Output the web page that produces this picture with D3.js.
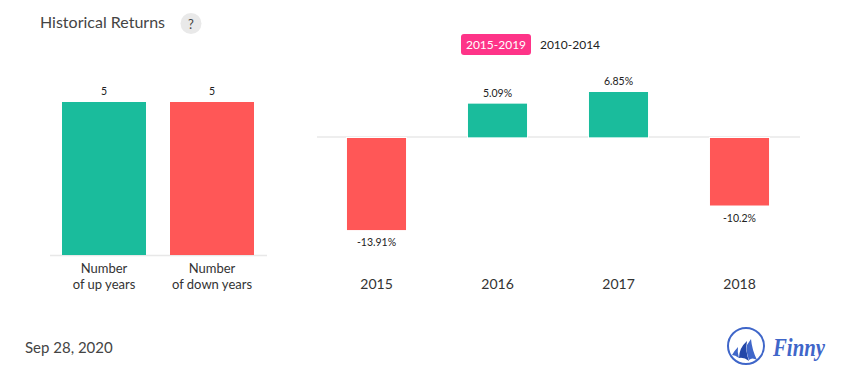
<!DOCTYPE html>
<html><head><meta charset="utf-8">
<script src="https://cdnjs.cloudflare.com/ajax/libs/d3/7.8.5/d3.min.js"></script>
<style>html,body{margin:0;padding:0;background:#fff;overflow:hidden}svg{display:block}text{font-family:Lato,sans-serif}</style>
</head><body><svg id="c" width="855" height="382"></svg>
<script>
const countLabels = [["Number","of up years"],["Number","of down years"]];
const countValues = [5,5];
const years = ["2015","2016","2017","2018"];
const returns = [-13.91,5.09,6.85,-10.2];
const returnLabels = ["-13.91%","5.09%","6.85%","-10.2%"];
const periods = ["2015-2019","2010-2014"];
const UP="#1abc9c", DOWN="#ff5757", AXIS="#e8e8e8";
const svg=d3.select("#c");

svg.append("text").attr("x",40).attr("y",28).attr("font-size",16).attr("fill","#444").text("Historical Returns");
svg.append("circle").attr("cx",191).attr("cy",23.5).attr("r",10.5).attr("fill","#e9e9e9");
svg.append("text").attr("x",191).attr("y",28.5).attr("text-anchor","middle").attr("font-size",13).attr("fill","#444").text("?");

// period toggle
svg.append("rect").attr("x",461).attr("y",34).attr("width",70).attr("height",21).attr("rx",3).attr("fill","#fe3488");
svg.append("text").attr("x",496).attr("y",49).attr("text-anchor","middle").attr("font-size",12).attr("fill","#fff").text(periods[0]);
svg.append("text").attr("x",570).attr("y",49).attr("text-anchor","middle").attr("font-size",12).attr("fill","#222").text(periods[1]);

// left chart
const xL=d3.scaleBand().domain(countLabels.map((d,i)=>i)).range([50,266]).paddingInner(0.2222).paddingOuter(0.1111);
const yL=d3.scaleLinear().domain([0,5]).range([255,102]);
svg.append("line").attr("x1",50).attr("x2",267).attr("y1",255.5).attr("y2",255.5).attr("stroke",AXIS).attr("stroke-width",1.5);
svg.selectAll(".cnt").data(countValues).join("rect").attr("class","cnt")
  .attr("x",(d,i)=>xL(i)).attr("width",xL.bandwidth()).attr("y",d=>yL(d)).attr("height",d=>yL(0)-yL(d))
  .attr("fill",(d,i)=>i?DOWN:UP);
svg.selectAll(".cntl").data(countValues).join("text").attr("class","cntl")
  .attr("x",(d,i)=>xL(i)+xL.bandwidth()/2).attr("y",d=>yL(d)-7).attr("text-anchor","middle").attr("font-size",10.5).attr("fill","#222").text(d=>d);
countLabels.forEach((ls,i)=>ls.forEach((t,j)=>{
  svg.append("text").attr("x",xL(i)+xL.bandwidth()/2).attr("y",273+j*16).attr("text-anchor","middle").attr("font-size",13).attr("fill","#333").text(t);
}));

// right chart
const xR=d3.scaleBand().domain(years).range([316,800]).paddingInner(0.512).paddingOuter(0.256);
const yR=d3.scaleLinear().domain([-13.91,6.85]).range([229.4,92]);
svg.append("line").attr("x1",317).attr("x2",800).attr("y1",137).attr("y2",137).attr("stroke",AXIS).attr("stroke-width",1.6);
svg.selectAll(".ret").data(returns).join("rect").attr("class","ret")
  .attr("x",(d,i)=>xR(years[i])).attr("width",xR.bandwidth())
  .attr("y",d=>d>0?yR(d):138).attr("height",d=>d>0?yR(0)-yR(d):yR(d)-yR(0))
  .attr("fill",d=>d>0?UP:DOWN).attr("stroke","#fff").attr("stroke-width",2).attr("paint-order","stroke");
svg.selectAll(".retl").data(returns).join("text").attr("class","retl")
  .attr("x",(d,i)=>xR(years[i])+xR.bandwidth()/2)
  .attr("y",d=>d>0?yR(d)-7:yR(d)+17).attr("text-anchor","middle").attr("font-size",10.5).attr("fill","#222")
  .text((d,i)=>returnLabels[i]);
const ax=svg.append("g").attr("transform","translate(0,269)").call(d3.axisBottom(xR).tickSize(0).tickPadding(10));
ax.select(".domain").remove();
ax.selectAll("text").attr("font-size",14).attr("fill","#333").style("font-family","Lato,sans-serif");

svg.append("text").attr("x",25).attr("y",353).attr("font-size",15).attr("fill","#444").text("Sep 28, 2020");

// logo
const logo=svg.append("g");
logo.append("circle").attr("cx",746).attr("cy",346).attr("r",18).attr("fill","none").attr("stroke","#3f66c9").attr("stroke-width",2);
logo.append("path").attr("d","M732 355 Q735 350 738 347 Q737 352 739 358 Q735 355 732 355Z").attr("fill","#3f66c9");
logo.append("path").attr("d","M739 358 Q739 348 747 341 Q745 351 749 361 Q744 357 739 358Z").attr("fill","#2347a8");
logo.append("path").attr("d","M747 345 Q749 342 751 339 Q752 350 757 360 Q752 357 749 360 Q746 353 747 345Z").attr("fill","#3f66c9");
svg.append("text").attr("x",773).attr("y",356).attr("font-size",26).attr("font-weight",700).attr("font-style","italic")
  .attr("textLength",52).attr("lengthAdjust","spacingAndGlyphs")
  .style("font-family","'Liberation Serif',serif").attr("fill","#3f66c9").text("Finny");
</script></body></html>
